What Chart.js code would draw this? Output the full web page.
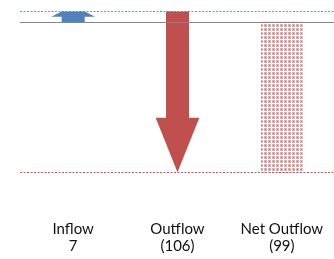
<!DOCTYPE html>
<html>
<head>
<meta charset="utf-8">
<script src="https://cdn.jsdelivr.net/npm/chart.js@4"></script>
<style>
  html, body { margin: 0; padding: 0; background: #fff; }
  #grafico { display: block; }
</style>
</head>
<body>
<canvas id="grafico" width="334" height="259"></canvas>
<script>
const categorias = ['Inflow', 'Outflow', 'Net Outflow'];
const valores = [7, -106, -99];
const rotulos = [['Inflow', '7'], ['Outflow', '(106)'], ['Net Outflow', '(99)']];

const azul = '#4F81BD';
const vermelho = '#C0504D';

// barras flutuantes: entrada e saída encadeadas, saldo a partir de zero
const setas = [[0, valores[0]], [valores[0], valores[0] + valores[1]], null];
const saldo = [null, null, [0, valores[2]]];
const coresSetas = [azul, vermelho, vermelho];

function criarPadrao() {
  const c = document.createElement('canvas');
  c.width = 4; c.height = 4;
  const g = c.getContext('2d');
  g.fillStyle = '#fff';
  g.fillRect(0, 0, 4, 4);
  g.fillStyle = 'rgba(192,80,77,0.45)';
  g.fillRect(0, 0, 3, 3);
  g.fillStyle = 'rgba(192,80,77,0.75)';
  g.fillRect(1, 1, 1, 1);
  return g.createPattern(c, 'repeat');
}

// desenha as setas a partir dos elementos de barra
const pluginSetas = {
  id: 'setas',
  afterDatasetsDraw(chart) {
    const ctx = chart.ctx;
    const meta = chart.getDatasetMeta(0);
    meta.data.forEach((bar, i) => {
      if (!setas[i]) return;
      const { x, y, base, width } = bar.getProps(['x', 'y', 'base', 'width'], true);
      const dir = y < base ? -1 : 1;
      const L = Math.abs(y - base);
      const cabecaL = width * 1.9;
      const cabecaCheia = cabecaL * 1.25;
      const cabeca = Math.min(cabecaCheia, L * 0.5);
      const ponta = cabeca < cabecaCheia ? width : 0;
      const yBase = y - dir * cabeca;
      ctx.save();
      ctx.fillStyle = coresSetas[i];
      ctx.beginPath();
      ctx.moveTo(x - width / 2, base);
      ctx.lineTo(x - width / 2, yBase);
      ctx.lineTo(x - cabecaL / 2, yBase);
      ctx.lineTo(x - ponta / 2, y);
      ctx.lineTo(x + ponta / 2, y);
      ctx.lineTo(x + cabecaL / 2, yBase);
      ctx.lineTo(x + width / 2, yBase);
      ctx.lineTo(x + width / 2, base);
      ctx.closePath();
      ctx.fill();
      ctx.restore();
    });

    // linhas de referência
    const ys = chart.scales.y;
    const x0 = 20, x1 = chart.width;
    const linhas = [
      { v: valores[0], cor: 'rgba(79,129,189,0.85)', tracejado: [2, 1.5] },
      { v: 0, cor: '#868686', tracejado: [] },
      { v: valores[0] + valores[1], cor: 'rgba(200,70,70,0.9)', tracejado: [2, 1.5] }
    ];
    linhas.forEach(l => {
      const py = Math.round(ys.getPixelForValue(l.v)) + 0.5;
      ctx.save();
      ctx.strokeStyle = l.cor;
      ctx.lineWidth = 1;
      ctx.setLineDash(l.tracejado);
      ctx.beginPath();
      ctx.moveTo(x0, py);
      ctx.lineTo(x1, py);
      ctx.stroke();
      ctx.restore();
    });
  }
};

new Chart(document.getElementById('grafico'), {
  type: 'bar',
  data: {
    labels: rotulos,
    datasets: [
      {
        label: 'setas',
        data: setas,
        backgroundColor: 'rgba(0,0,0,0)',
        barThickness: 23,
        grouped: false
      },
      {
        label: 'saldo',
        data: saldo,
        backgroundColor: criarPadrao(),
        barThickness: 41,
        grouped: false
      }
    ]
  },
  options: {
    responsive: false,
    devicePixelRatio: 1,
    animation: false,
    layout: { padding: { left: 21, right: 0, top: 0, bottom: 0 } },
    plugins: { legend: { display: false }, tooltip: { enabled: false } },
    scales: {
      x: {
        grid: { display: false, drawTicks: true, tickLength: 20 },
        border: { display: false },
        afterFit(scale) { scale.height = 59; },
        ticks: {
          color: '#111',
          padding: 0.5,
          font: { family: 'Lato', size: 15, lineHeight: 1.133 },
          maxRotation: 0,
          autoSkip: false
        }
      },
      y: {
        display: false,
        min: -117.2,
        max: 14.5
      }
    }
  },
  plugins: [pluginSetas]
});
</script>
</body>
</html>
